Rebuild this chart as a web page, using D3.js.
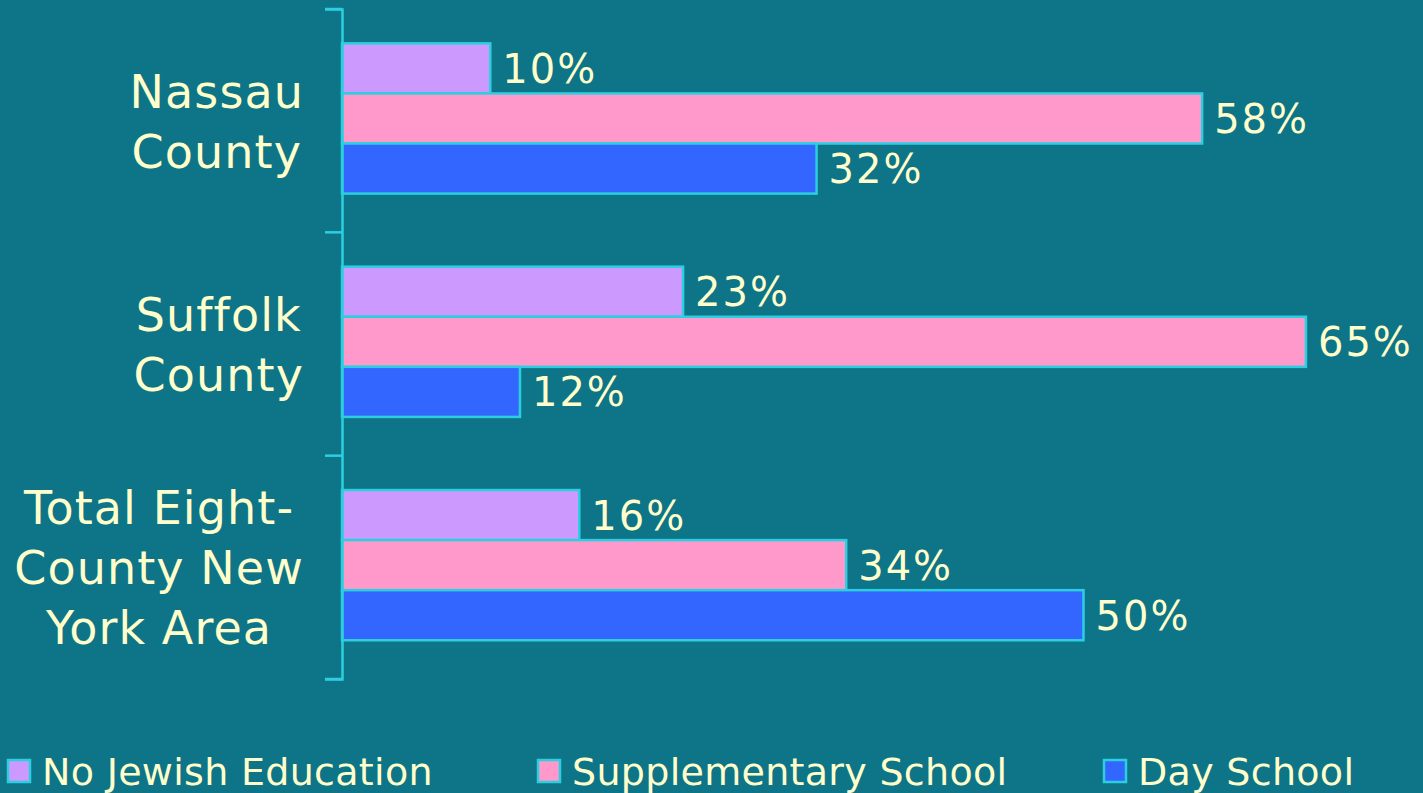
<!DOCTYPE html>
<html>
<head>
<meta charset="utf-8">
<script src="https://cdn.jsdelivr.net/npm/d3@7"></script>
<style>
  html, body { margin: 0; padding: 0; background: #0E7488; }
  svg { display: block; }
</style>
</head>
<body>
<svg id="chart" width="1423" height="793"></svg>
<script>
// ---- data ----
const categories = ["Nassau County", "Suffolk County", "Total Eight-County New York Area"];
const categoryLines = [["Nassau", "County"], ["Suffolk", "County"], ["Total Eight-", "County New", "York Area"]];
const seriesNames = ["No Jewish Education", "Supplementary School", "Day School"];
const noJewishEducation = [10, 23, 16];
const supplementarySchool = [58, 65, 34];
const daySchool = [32, 12, 50];
const seriesColors = ["#CC99FF", "#FF99CC", "#3366FF"];

const seriesValues = [noJewishEducation, supplementarySchool, daySchool];

// ---- layout ----
const W = 1423, H = 793;
const bg = "#0E7488";
const axisColor = "#2CCFE0";
const textColor = "#FFFFCC";
const font = "'DejaVu Sans', Verdana, sans-serif";

const svg = d3.select("#chart");
svg.append("rect").attr("width", W).attr("height", H).attr("fill", bg);

const x = d3.scaleLinear().domain([0, 100]).range([342, 342 + 14.83 * 100]);
const y = d3.scaleBand().domain(categories).range([9, 679]).padding(0);
const inner = d3.scaleBand().domain(seriesNames).range([0, y.bandwidth()])
  .paddingInner(0).paddingOuter(0.73).align(0.47);

// bars
const g = svg.append("g");
categories.forEach((cat, ci) => {
  seriesNames.forEach((s, si) => {
    const v = seriesValues[si][ci];
    const y0 = y(cat) + inner(s);
    const bh = inner.bandwidth();
    g.append("rect")
      .attr("x", x(0)).attr("y", y0)
      .attr("width", x(v) - x(0)).attr("height", bh)
      .attr("fill", seriesColors[si])
      .attr("stroke", axisColor).attr("stroke-width", 2.5);
    g.append("text")
      .attr("x", x(v) + 12).attr("y", y0 + bh / 2 + 14.5)
      .attr("fill", textColor).attr("font-family", font).attr("font-size", 40)
      .attr("letter-spacing", 2)
      .text(v + "%");
  });
});

// axis
const axis = d3.axisLeft(y).tickSize(17).tickFormat("").tickSizeOuter(17);
const axG = svg.append("g").attr("transform", `translate(${x(0)},0)`).call(axis);
axG.selectAll(".tick").remove();
const bounds = categories.map(c => y(c)).concat([y.range()[1]]);
axG.select(".domain").attr("stroke", axisColor).attr("stroke-width", 2.5);
axG.selectAll(".btick").data(bounds).join("line")
  .attr("class", "btick")
  .attr("x1", -17).attr("x2", 0)
  .attr("y1", d => d).attr("y2", d => d)
  .attr("stroke", axisColor).attr("stroke-width", 2.5);

// category labels
const lineH = 60;
categories.forEach((cat, ci) => {
  const lines = categoryLines[ci];
  const cy = y(cat) + y.bandwidth() / 2;
  const tg = svg.append("g");
  const texts = lines.map((ln, li) => tg.append("text")
    .attr("y", cy + (li - (lines.length - 1) / 2) * lineH + 17)
    .attr("fill", textColor).attr("font-family", font).attr("font-size", 46)
    .attr("letter-spacing", 1.1)
    .attr("text-anchor", "middle")
    .text(ln));
  const maxW = d3.max(texts, t => t.node().getComputedTextLength());
  texts.forEach(t => t.attr("x", 304 - maxW / 2));
});

// legend
const legendX = [7, 537, 1103];
const lg = svg.append("g");
seriesNames.forEach((s, i) => {
  lg.append("rect")
    .attr("x", legendX[i] + 1).attr("y", 760)
    .attr("width", 22).attr("height", 22)
    .attr("fill", seriesColors[i])
    .attr("stroke", axisColor).attr("stroke-width", 2.5);
  lg.append("text")
    .attr("x", legendX[i] + 35).attr("y", 785)
    .attr("fill", textColor).attr("font-family", font).attr("font-size", 38)
    .attr("letter-spacing", 0.3)
    .text(s);
});
</script>
</body>
</html>
